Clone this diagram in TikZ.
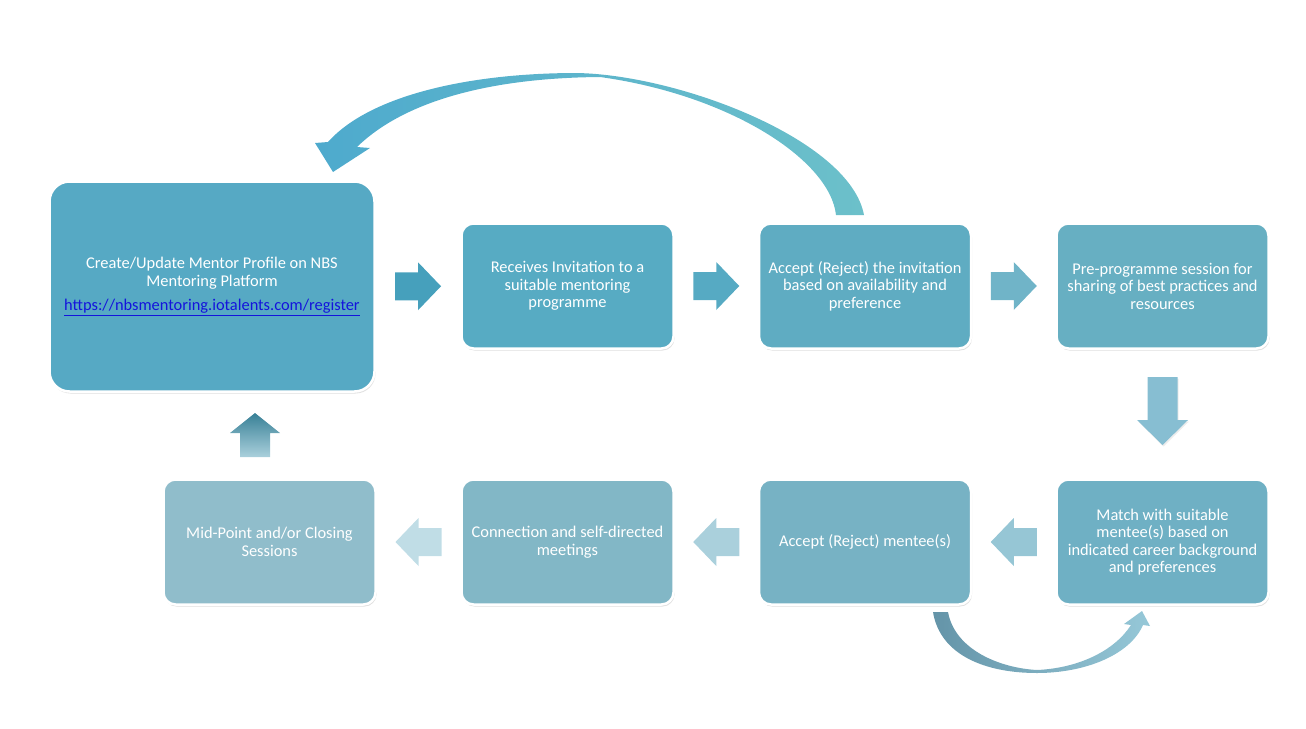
\documentclass[tikz,border=0pt]{standalone}
\usepackage{fontspec}
\setmainfont{Carlito}
\usetikzlibrary{calc,shadows}

\definecolor{stageA}{RGB}{86,169,196}
\definecolor{stageB}{RGB}{87,171,195}
\definecolor{stageC}{RGB}{95,172,194}
\definecolor{stageD}{RGB}{103,175,194}
\definecolor{stageE}{RGB}{111,176,196}
\definecolor{stageF}{RGB}{119,178,196}
\definecolor{stageG}{RGB}{130,183,198}
\definecolor{stageH}{RGB}{144,189,203}
\definecolor{arrA}{RGB}{70,160,188}
\definecolor{arrB}{RGB}{86,170,195}
\definecolor{arrC}{RGB}{112,180,200}
\definecolor{arrD}{RGB}{135,190,210}
\definecolor{arrE}{RGB}{150,198,213}
\definecolor{arrF}{RGB}{170,208,220}
\definecolor{arrG}{RGB}{192,221,230}
\definecolor{loopL}{RGB}{78,170,205}
\definecolor{loopM}{RGB}{175,218,232}
\definecolor{loopR}{RGB}{108,192,202}
\definecolor{turnL}{RGB}{100,148,168}
\definecolor{turnR}{RGB}{150,200,216}
\definecolor{linkblue}{RGB}{20,20,220}

\tikzset{
	stage/.style={rounded corners=12pt, draw=white, line width=2.5pt, text=white,
		align=center, minimum width=212pt, minimum height=125pt, inner sep=4pt,
		font=\fontsize{16.4}{17.5}\selectfont,
		drop shadow={opacity=.25, shadow xshift=1pt, shadow yshift=-2pt}},
	bigstage/.style={stage, rounded corners=20pt, minimum width=325pt, minimum height=210pt},
	flowarrow/.style={drop shadow={opacity=.15, shadow xshift=1pt, shadow yshift=-1.5pt}},
	blockarrow/.pic={\fill[pic actions] (-23,-14) -- (0,-14) -- (0,-24) -- (23,0) -- (0,24) -- (0,14) -- (-23,14) -- cycle;}
}

\begin{document}
\begin{tikzpicture}[x=1pt,y=-1pt]
	\useasboundingbox (0,0) rectangle (1306,728);
	
	% top row
	\node[bigstage, fill=stageA] (profile) at (212,286.5) {Create/Update Mentor Profile on NBS\\ Mentoring Platform\\[7pt] \textcolor{linkblue}{\underline{https://nbsmentoring.iotalents.com/register}}};
	\node[stage, fill=stageB] (invite) at (567.5,286) {Receives Invitation to a\\ suitable mentoring\\ programme};
	\node[stage, fill=stageC] (accinv) at (865,286) {Accept (Reject) the invitation\\ based on availability and\\ preference};
	\node[stage, fill=stageD] (presess) at (1162.5,286) {Pre-programme session for\\ sharing of best practices and\\ resources};
	% bottom row
	\node[stage, fill=stageE] (match) at (1162.5,542) {Match with suitable\\ mentee(s) based on\\ indicated career background\\ and preferences};
	\node[stage, fill=stageF] (accmen) at (865,542) {Accept (Reject) mentee(s)};
	\node[stage, fill=stageG] (connect) at (567.5,542) {Connection and self-directed\\ meetings};
	\node[stage, fill=stageH] (midpt) at (269.5,542) {Mid-Point and/or Closing\\ Sessions};
	
	% block arrows between the stages
	\coordinate (a12) at ($(profile.east)!0.5!(invite.west)$);
	\coordinate (a23) at ($(invite.east)!0.5!(accinv.west)$);
	\coordinate (a34) at ($(accinv.east)!0.5!(presess.west)$);
	\coordinate (a45) at ($(presess.south)!0.5!(match.north)$);
	\coordinate (a56) at ($(match.west)!0.5!(accmen.east)$);
	\coordinate (a67) at ($(accmen.west)!0.5!(connect.east)$);
	\coordinate (a78) at ($(connect.west)!0.5!(midpt.east)$);
	\coordinate (a81) at (255,435);
	\pic[fill=arrA, flowarrow] at (a12) {blockarrow};
	\pic[fill=arrB, flowarrow] at (a23) {blockarrow};
	\pic[fill=arrC, flowarrow] at (a34) {blockarrow};
	\fill[arrD, flowarrow, shift={(a45)}] (-15,-37) -- (15,-37) -- (15,6) -- (25.5,6) -- (0,31) -- (-25.5,6) -- (-15,6) -- cycle;
	\pic[fill=arrE, flowarrow, rotate=180] at (a56) {blockarrow};
	\pic[fill=arrF, flowarrow, rotate=180] at (a67) {blockarrow};
	\pic[fill=arrG, flowarrow, rotate=180] at (a78) {blockarrow};
	\shade[top color=arrA!80!black, bottom color=arrF, shift={(a81)}] (0,-22) -- (25,-2) -- (15,-2) -- (15,22) -- (-15,22) -- (-15,-2) -- (-25,-2) -- cycle;
	
	% curved arrow back to the profile
	\shade[left color=loopL, middle color=loopM, right color=loopR] (328,142) .. controls (370,95) and (470,73) .. (577,73)
		.. controls (680,75) and (850,140) .. (864,215) -- (836,215)
		.. controls (830,160) and (730,95) .. (600,77)
		.. controls (480,78) and (400,105) .. (357,147)
		-- (370,148) -- (333,172) -- (315,143) -- cycle;
	% curved arrow from accept mentee to match
	\shade[left color=turnL, middle color=white, right color=turnR] (933,612) .. controls (940,655) and (985,673) .. (1037,673)
		.. controls (1085,673) and (1130,655) .. (1143,625) -- (1150,626) -- (1142,611) -- (1124,624) -- (1131,625)
		.. controls (1115,650) and (1080,668) .. (1037,670)
		.. controls (1000,668) and (955,650) .. (948,612) -- cycle;
\end{tikzpicture}
\end{document}
